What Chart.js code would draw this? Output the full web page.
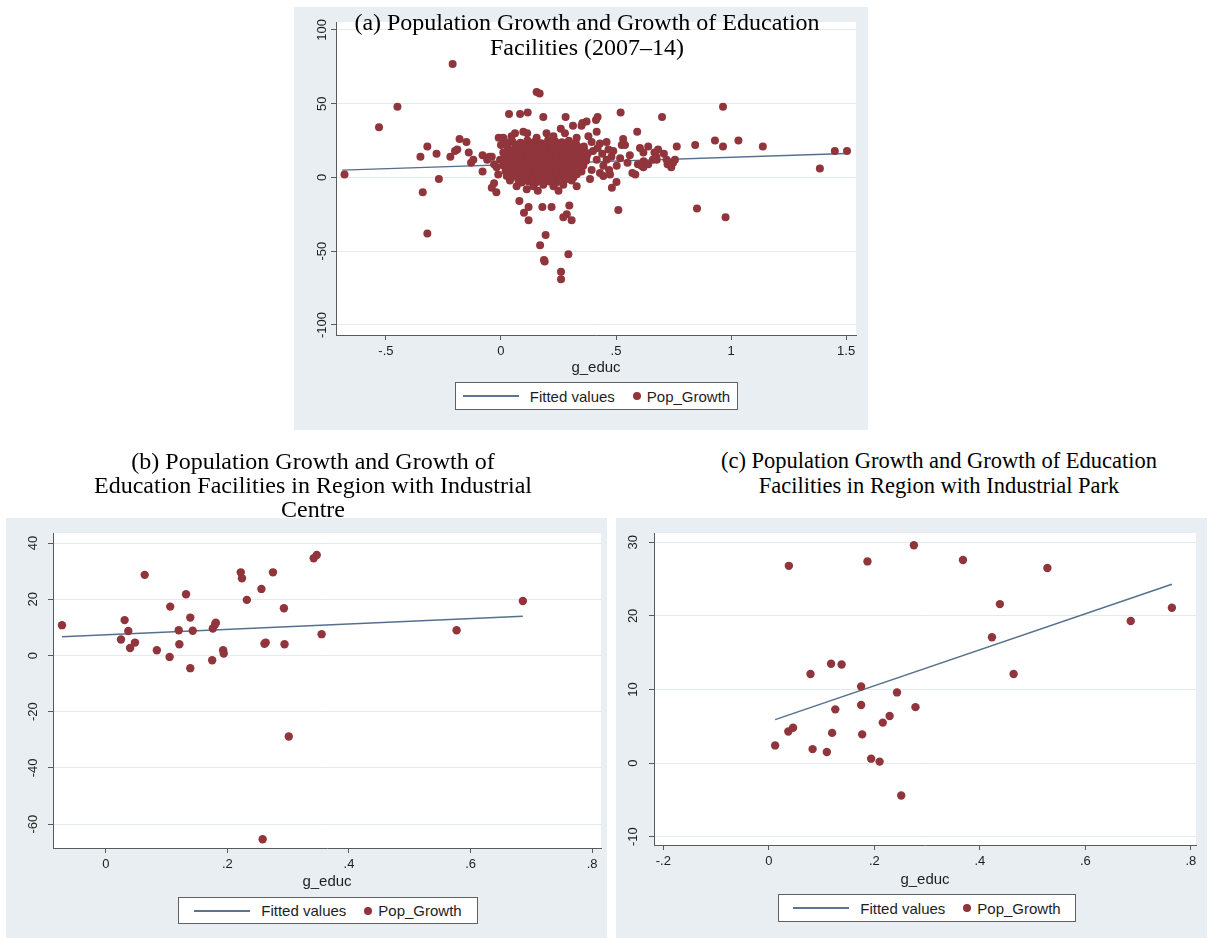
<!DOCTYPE html>
<html>
<head>
<meta charset="utf-8">
<script src="https://cdn.jsdelivr.net/npm/chart.js@4.4.1/dist/chart.umd.min.js"></script>
<style>
  html, body { margin:0; padding:0; background:#ffffff; }
  body { width:1210px; height:938px; position:relative; overflow:hidden; font-family:"Liberation Sans", Arial, sans-serif; }
  .bg { position:absolute; background:#e8eef1; }
  .cv { position:absolute; }
  .title { position:absolute; font-family:"Liberation Serif","Times New Roman",serif; color:#000; text-align:center; white-space:nowrap; transform:translateX(-50%); z-index:5; }
  .legend { position:absolute; background:#fff; border:1px solid #606060; box-sizing:border-box; display:flex; align-items:center; justify-content:center; font-size:15px; color:#1e1e1e; z-index:5; }
  .legend .ln { display:inline-block; width:56px; height:0; border-top:2px solid #5a7592; margin-right:11px; }
  .legend .dot { display:inline-block; width:8px; height:8px; border-radius:50%; background:#90353b; margin:0 6px 0 18px; }
</style>
</head>
<body>

<div class="bg" style="left:294px;top:7px;width:574px;height:423px;"></div>
<canvas id="chartA" class="cv" style="left:294px;top:7px;" width="574" height="423"></canvas>
<div class="title" style="left:587px;top:10px;font-size:24px;line-height:25px;">(a) Population Growth and Growth of Education<br>Facilities (2007–14)</div>
<div id="legA" class="legend" style="left:455px;top:382px;width:283px;height:28px;"></div>

<div class="bg" style="left:6px;top:518px;width:601px;height:420px;"></div>
<canvas id="chartB" class="cv" style="left:6px;top:518px;" width="601" height="420"></canvas>
<div class="title" style="left:313px;top:449px;font-size:24px;line-height:24px;">(b) Population Growth and Growth of<br>Education Facilities in Region with Industrial<br>Centre</div>
<div id="legB" class="legend" style="left:178px;top:897px;width:300px;height:27px;"></div>

<div class="bg" style="left:616px;top:518px;width:591px;height:420px;"></div>
<canvas id="chartC" class="cv" style="left:616px;top:518px;" width="591" height="420"></canvas>
<div class="title" style="left:939px;top:449px;font-size:22.5px;line-height:24.5px;">(c) Population Growth and Growth of Education<br>Facilities in Region with Industrial Park</div>
<div id="legC" class="legend" style="left:778px;top:894px;width:298px;height:28px;"></div>

<script>
// ---------------- DATA ----------------
const seriesLabels = ['Fitted values', 'Pop_Growth'];
const xAxisTitle = 'g_educ';

// Panel (a)
const gEducA = [
  -0.68,-0.53,-0.45,-0.21,-0.35,-0.32,-0.28,-0.27,-0.34,-0.32,
  -0.22,-0.19,-0.18,-0.15,-0.14,-0.20,-0.13,-0.12,-0.08,-0.08,
  -0.06,-0.04,-0.04,-0.02,-0.03,-0.01,0.035,0.083,0.116,0.155,
  0.168,0.184,0.281,0.42,0.52,0.70,0.965,0.844,0.93,0.965,
  1.032,1.138,0.764,0.708,0.683,0.748,0.724,0.74,0.756,1.386,
  1.451,1.504,0.852,0.976,0.51,0.592,0.531,0.539,0.482,0.502,
  0.571,0.584,0.595,0.611,0.619,0.667,0.675,0.604,0.619,0.677,
  0.72,0.08,0.12,0.10,0.12,0.18,0.22,0.297,0.286,0.271,
  0.307,0.194,0.17,0.187,0.19,0.293,0.261,0.261,0.329,0.387,
  0.010,0.046,0.061,0.097,0.114,0.155,0.198,0.228,0.26,0.278,
  0.329,0.35,0.372,0.413,0.416,0.38,0.313,0.354,0.394,0.43,
  0.459,0.467,0.488,0.40,0.372,0.416,0.459,0.445,0.394,0.358,
  0.474,0.445,0.525,0.518,0.503,0.44,0.48,0.42,0.36,0.47,
  0.43,0.55,0.56,0.62,0.64,0.64,0.66,-0.019,-0.004,0.01,
  -0.012,0.025,0.039,0.0,0.02,-0.03,-0.05,0.112,0.141,0.184,
  0.228,0.271,0.307,0.068,0.25,0.16,
  0.05,0.085,0.115,0.145,0.175,0.205,0.235,0.265,0.295,0.325,
  0.03,0.062,0.09,0.12,0.152,0.18,0.21,0.238,0.27,0.30,0.332,0.36,
  0.018,0.045,0.075,0.105,0.135,0.166,0.195,0.225,0.254,0.285,0.315,0.345,0.378,
  0.012,0.04,0.07,0.10,0.13,0.16,0.19,0.22,0.25,0.28,0.31,0.34,0.37,
  0.01,0.036,0.065,0.095,0.125,0.155,0.185,0.215,0.245,0.275,0.305,0.335,
  0.02,0.05,0.08,0.11,0.14,0.17,0.20,0.23,0.26,0.29,0.32,0.35,
  0.045,0.075,0.105,0.135,0.165,0.195,0.225,0.255,0.285,0.315,
  0.09,0.12,0.15,0.18,0.21,0.24,0.27,
  0.065,0.10,0.13,0.16,0.19,0.22,0.25,0.28,0.31,
  0.045,0.075,0.105,0.135,0.165,0.195,0.225,0.255,0.285,0.315,0.345,
  0.03,0.06,0.09,0.12,0.15,0.18,0.21,0.24,0.27,0.30,0.33,0.36,
  0.025,0.055,0.085,0.115,0.145,0.175,0.205,0.235,0.265,0.295,0.325,0.355,
  0.035,0.065,0.095,0.125,0.155,0.185,0.215,0.245,0.275,0.305,0.335,
  0.06,0.09,0.12,0.15,0.18,0.21,0.24,0.27,0.30,0.33,
  0.075,0.105,0.135,0.165,0.195,0.225,0.255,0.285
];
const popGrowthA = [
  2,34,48,77,14,21,16,-1,-10,-38,
  14,19,26,24,17,18,10,12,4,15,
  12,14,-7,-10,-4,27,43,43,44,58,
  57,41,41,41,44,41,48,22,25,21,
  25,21,21,16,19,10,9,7,12,6,
  18,18,-21,-27,-22,31,26,22,-7,-3,
  3,2,9,8,7,17,14,20,17,12,
  12,-16,-20,-24,-29,-20,-20,-19,-25,-27,
  -29,-39,-46,-56,-57,-52,-64,-69,-6,-1,
  27,28,30,31,30,27,30,28,33,30,
  27,35,38,39,31,28,35,37,24,23,
  24,19,18,18,14,12,12,8,5,8,
  2,1,22,13,8,16,14,20,21,5,
  3,10,15,11,9,21,12,7,12,17,
  2,1,-2,22,24,9,14,-8,-6,-5,
  -6,-5,-2,-6,-9,-9,
  24.2,23.5,25.1,24.0,23.2,25.4,24.6,23.8,24.9,23.4,
  20.3,19.6,21.0,20.1,19.2,20.8,19.9,20.5,19.4,20.2,21.1,19.7,
  16.1,15.4,16.8,15.9,16.3,15.2,16.6,15.8,16.2,15.5,16.9,15.7,16.4,
  12.2,11.5,12.7,11.9,12.4,11.3,12.6,12.0,11.6,12.8,11.8,12.3,11.4,
  8.1,7.6,8.5,7.9,8.3,7.4,8.7,8.0,7.7,8.4,7.5,8.2,
  4.2,3.6,4.5,3.9,4.3,3.4,4.6,4.0,3.7,4.4,3.8,4.1,
  0.3,-0.4,0.6,-0.2,0.4,-0.5,0.2,-0.3,0.5,-0.1,
  -3.4,-2.8,-3.6,-3.1,-2.7,-3.5,-3.0,
  22.1,21.8,22.6,21.5,22.3,21.9,22.8,21.6,22.2,
  18.2,17.6,18.5,17.9,18.7,17.3,18.1,18.6,17.7,18.3,17.5,
  14.1,13.6,14.5,13.8,14.3,13.5,14.6,14.0,13.7,14.4,13.9,14.2,
  10.2,9.7,10.6,9.9,10.3,9.5,10.7,10.0,9.6,10.4,9.8,10.1,
  6.1,5.7,6.4,5.9,6.3,5.5,6.6,6.0,5.8,6.2,5.6,
  2.2,1.7,2.5,1.9,2.3,1.6,2.4,2.0,1.8,2.1,
  -1.4,-1.8,-1.2,-1.6,-1.3,-1.9,-1.5,-1.1
];
const fitXA = [-0.69, 1.50];
const fitYA = [5.0, 16.2];
const xTicksA = [-0.5, 0, 0.5, 1, 1.5];
const xTickLabelsA = ['-.5', '0', '.5', '1', '1.5'];
const yTicksA = [-100, -50, 0, 50, 100];
const yTickLabelsA = ['-100', '-50', '0', '50', '100'];

// Panel (b)
const gEducB = [-0.072,0.025,0.031,0.037,0.040,0.048,0.064,0.084,0.106,0.105,
  0.120,0.121,0.132,0.139,0.143,0.139,0.175,0.176,0.180,0.181,
  0.193,0.194,0.222,0.224,0.232,0.256,0.258,0.263,0.261,0.275,
  0.293,0.294,0.301,0.342,0.347,0.355,0.577,0.686];
const popGrowthB = [10.8,5.7,12.6,8.7,2.7,4.6,28.7,1.9,17.4,-0.5,
  9.0,4.0,21.8,13.5,8.8,-4.5,-1.7,9.6,11.1,11.7,
  1.9,0.7,29.6,27.5,19.8,23.7,-65.4,4.6,4.2,29.6,
  16.8,4.0,-28.8,34.6,35.8,7.6,9.0,19.4];
const fitXB = [-0.072, 0.686];
const fitYB = [6.7, 14.0];
const xTicksB = [0, 0.2, 0.4, 0.6, 0.8];
const xTickLabelsB = ['0', '.2', '.4', '.6', '.8'];
const yTicksB = [-60, -40, -20, 0, 20, 40];
const yTickLabelsB = ['-60', '-40', '-20', '0', '20', '40'];

// Panel (c)
const gEducC = [0.012,0.038,0.037,0.046,0.079,0.083,0.110,0.118,0.138,0.126,
  0.120,0.175,0.175,0.177,0.187,0.194,0.210,0.216,0.229,0.243,
  0.251,0.275,0.278,0.368,0.423,0.438,0.464,0.528,0.686,0.764];
const popGrowthC = [2.4,26.8,4.3,4.8,12.1,1.9,1.5,13.5,13.4,7.3,
  4.1,10.4,7.9,3.9,27.4,0.6,0.2,5.5,6.4,9.6,
  -4.4,29.6,7.6,27.6,17.1,21.6,12.1,26.5,19.3,21.1];
const fitXC = [0.012, 0.764];
const fitYC = [5.9, 24.3];
const xTicksC = [-0.2, 0, 0.2, 0.4, 0.6, 0.8];
const xTickLabelsC = ['-.2', '0', '.2', '.4', '.6', '.8'];
const yTicksC = [-10, 0, 10, 20, 30];
const yTickLabelsC = ['-10', '0', '10', '20', '30'];

// ---------------- STYLE / BUILD ----------------
Chart.defaults.font.family = "'Liberation Sans', Arial, sans-serif";
const MAROON = '#90353b';
const FITCOL = '#55708c';
const AXISCOL = '#5a5a5a';
const TEXTCOL = '#1e1e1e';
const GRIDCOL = '#e4ebee';

const plotBg = {
  id: 'plotBg',
  beforeDraw(chart) {
    const { ctx, chartArea: a } = chart;
    ctx.save();
    ctx.fillStyle = '#ffffff';
    ctx.fillRect(a.left, a.top, a.right - a.left, a.bottom - a.top);
    ctx.restore();
  }
};

function pairs(xs, ys) { return xs.map((x, i) => ({ x: x, y: ys[i] })); }

function makeChart(id, p) {
  return new Chart(document.getElementById(id), {
    type: 'scatter',
    data: {
      datasets: [
        { label: seriesLabels[1], data: pairs(p.xs, p.ys), pointRadius: p.r, pointHoverRadius: p.r,
          pointBackgroundColor: MAROON, pointBorderWidth: 0, showLine: false, order: 0 },
        { label: seriesLabels[0], data: pairs(p.fx, p.fy), showLine: true, pointRadius: 0,
          borderColor: FITCOL, borderWidth: 1.4, fill: false, order: 1 }
      ]
    },
    options: {
      responsive: false, animation: false, events: [],
      layout: { padding: p.pad },
      plugins: { legend: { display: false }, tooltip: { enabled: false } },
      scales: {
        x: {
          type: 'linear', min: p.xmin, max: p.xmax,
          afterBuildTicks: s => { s.ticks = p.xt.map(v => ({ value: v })); },
          afterFit: s => { s.height = p.xh; },
          grid: { drawOnChartArea: false, drawTicks: true, tickLength: 5, tickColor: AXISCOL, tickWidth: 1 },
          border: { display: true, color: AXISCOL, width: 1 },
          ticks: { autoSkip: false, maxRotation: 0, minRotation: 0, padding: 4, color: TEXTCOL,
                   font: { size: 13 }, callback: (v, i) => p.xl[i] },
          title: { display: true, text: xAxisTitle, color: TEXTCOL, font: { size: 15 }, padding: { top: 0, bottom: 0 } }
        },
        y: {
          type: 'linear', min: p.ymin, max: p.ymax,
          afterBuildTicks: s => { s.ticks = p.yt.map(v => ({ value: v })); },
          afterFit: s => { s.width = p.yw; },
          grid: { drawOnChartArea: true, color: GRIDCOL, lineWidth: 1, drawTicks: true, tickLength: 5, tickColor: AXISCOL, tickWidth: 1 },
          border: { display: true, color: AXISCOL, width: 1 },
          ticks: { autoSkip: false, minRotation: 90, maxRotation: 90, crossAlign: 'center', padding: p.yp,
                   color: TEXTCOL, font: { size: 13 }, callback: (v, i) => p.yl[i] }
        }
      }
    },
    plugins: [plotBg]
  });
}

function buildLegend(elId, chart) {
  const el = document.getElementById(elId);
  const ds = chart.data.datasets.slice().sort((a, b) => b.order - a.order);
  ds.forEach(d => {
    const mark = document.createElement('span');
    mark.className = d.showLine ? 'ln' : 'dot';
    el.appendChild(mark);
    const t = document.createElement('span');
    t.textContent = d.label;
    el.appendChild(t);
  });
}

const chA = makeChart('chartA', {
  xs: gEducA, ys: popGrowthA, fx: fitXA, fy: fitYA, r: 4,
  xmin: -0.717, xmax: 1.543, ymin: -106.8, ymax: 105.4,
  xt: xTicksA, xl: xTickLabelsA, yt: yTicksA, yl: yTickLabelsA,
  pad: { left: 0, top: 15, right: 12, bottom: 53 }, xh: 42, yw: 42, yp: -4
});
const chB = makeChart('chartB', {
  xs: gEducB, ys: popGrowthB, fx: fitXB, fy: fitYB, r: 4.2,
  xmin: -0.0868, xmax: 0.8145, ymin: -68.5, ymax: 43.6,
  xt: xTicksB, xl: xTickLabelsB, yt: yTicksB, yl: yTickLabelsB,
  pad: { left: 0, top: 15, right: 6, bottom: 47 }, xh: 43, yw: 47, yp: 5.6
});
const chC = makeChart('chartC', {
  xs: gEducC, ys: popGrowthC, fx: fitXC, fy: fitYC, r: 4.2,
  xmin: -0.2176, xmax: 0.8097, ymin: -11.13, ymax: 31.26,
  xt: xTicksC, xl: xTickLabelsC, yt: yTicksC, yl: yTickLabelsC,
  pad: { left: 0, top: 15, right: 11, bottom: 49 }, xh: 44, yw: 38, yp: 6.6
});
buildLegend('legA', chA);
buildLegend('legB', chB);
buildLegend('legC', chC);
</script>
</body>
</html>
